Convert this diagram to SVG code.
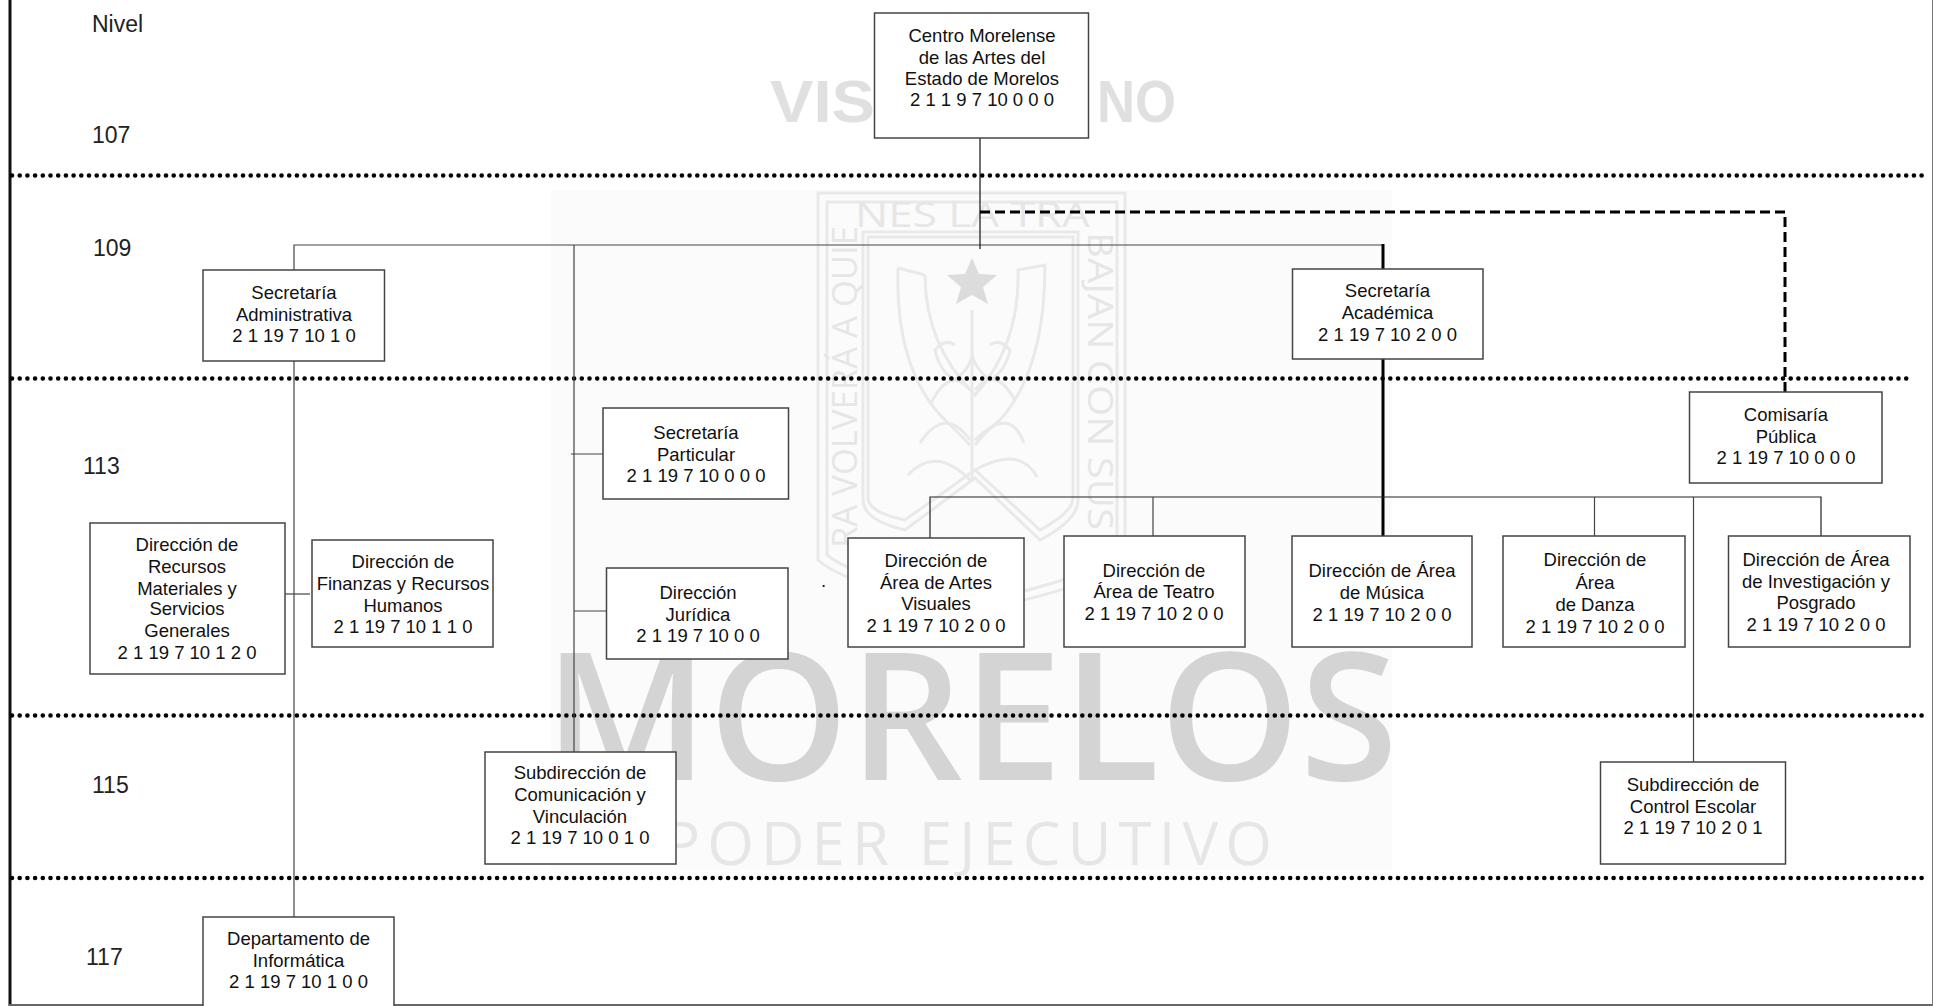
<svg xmlns="http://www.w3.org/2000/svg" width="1933" height="1006" viewBox="0 0 1933 1006">
<style>
text{font-family:"Liberation Sans",Arial,sans-serif;fill:#111}
.n text{font-size:18.5px;text-anchor:middle}
.n rect{fill:#fff;stroke:#444;stroke-width:1.5}
.lv{font-size:23px;fill:#222}
.dot{stroke:#000;stroke-width:4.6;stroke-linecap:round;stroke-dasharray:0 7.7;fill:none}
.c{stroke:#444;stroke-width:1.2;fill:none}
.wl{fill:none;stroke:#e9e9e9;stroke-width:3}
.wt{fill:#e6e6e6;font-family:"Open Sans","Liberation Sans",sans-serif;font-size:34px}
</style>
<rect width="1933" height="1006" fill="#fff"/>
<g id="watermark">
<rect x="551" y="190" width="841" height="680" fill="#fbfbfb"/>
<text x="770" y="122" font-size="60" font-weight="700" style="fill:#e0e0e0" textLength="105" lengthAdjust="spacingAndGlyphs">VIS</text>
<text x="1097" y="122" font-size="60" font-weight="700" style="fill:#e0e0e0" textLength="79" lengthAdjust="spacingAndGlyphs">NO</text>
<path class="wl" d="M818 193H1125V560Q1100 585 972 612Q845 585 818 560Z"/>
<path class="wl" d="M827 202H1117V555Q1090 578 972 603Q855 578 827 555Z"/>
<path class="wl" d="M863 232H1078V500Q1078 520 1040 540L975 478L905 530Q863 520 863 500Z"/>
<path class="wl" d="M868 237H1073V498Q1073 512 1040 530L975 470L905 520Q868 512 868 498Z"/>
<path d="M972 258L979 274L997 275L983 287L988 304L972 295L956 304L961 287L947 275L965 274Z" fill="#dcdcdc"/>
<path class="wl" d="M898 268Q895 370 945 420Q958 432 970 445M925 275Q925 345 975 395Q1020 345 1018 270L1045 265Q1045 370 1000 420Q985 432 975 445M898 268L925 275"/>
<path class="wl" d="M972 310V480M955 345Q945 338 935 350Q940 372 955 380Q975 365 972 345M990 345Q1000 338 1010 350Q1005 372 990 380Q970 365 972 345"/>
<path class="wl" d="M970 390Q950 365 930 405M975 390Q995 365 1015 400M970 440Q945 405 920 443M975 440Q1010 405 1024 443M970 480Q935 445 908 475M975 470Q1020 445 1037 477"/>
<text class="wt" x="855" y="227" textLength="235" lengthAdjust="spacingAndGlyphs">NES LA TRA</text>
<text class="wt" transform="translate(857,548) rotate(-90)" textLength="322" lengthAdjust="spacingAndGlyphs">RA VOLVERÁ A QUIE</text>
<text class="wt" transform="translate(1088,232) rotate(90)" textLength="298" lengthAdjust="spacingAndGlyphs">BAJAN CON SUS</text>
<text x="544" y="780" font-size="178" style="fill:#d4d4d4;font-family:'Open Sans','Liberation Sans',sans-serif" font-weight="600" textLength="854" lengthAdjust="spacingAndGlyphs">MORELOS</text>
<text x="664" y="865" font-size="60" style="fill:#e6e6e6;font-family:'Open Sans','Liberation Sans',sans-serif" textLength="608" lengthAdjust="spacing">PODER EJECUTIVO</text>
</g>
<g id="levels">
<text class="lv" x="92" y="32">Nivel</text>
<text class="lv" x="92" y="143">107</text>
<text class="lv" x="93" y="256">109</text>
<text class="lv" x="83" y="474">113</text>
<text class="lv" x="92" y="793">115</text>
<text class="lv" x="86" y="965">117</text>
</g>
<g id="frame">
<path d="M10 0V1006" stroke="#111" stroke-width="3" fill="none"/>
<path d="M9 1005H1933" stroke="#666" stroke-width="2" fill="none"/>
<path d="M1932.500 0V1006" stroke="#777" stroke-width="1" fill="none"/>
</g>
<g id="dotted-levels">
<path class="dot" d="M12 175.500H1928"/>
<path class="dot" d="M12 378.500H1911"/>
<path class="dot" d="M12 715.500H1928"/>
<path class="dot" d="M12 878H1928"/>
</g>
<g id="connectors">
<path class="c" d="M294 270V245H1384"/>
<path class="c" d="M980 138V249" style="stroke:#111"/>
<path d="M980 212H1785V392" fill="none" stroke="#000" stroke-width="3" stroke-dasharray="10 5"/>
<path d="M1383 244V536" fill="none" stroke="#000" stroke-width="3"/>
<path class="c" d="M294 361V917"/>
<path class="c" d="M285 594H310"/>
<path class="c" d="M574 245V752"/>
<path class="c" d="M571 454H605"/>
<path class="c" d="M574 611H607"/>
<path class="c" d="M930 538V497H1821V536" style="stroke:#222"/>
<path class="c" d="M1153 497V536"/>
<path class="c" d="M1594.500 497V536"/>
<path class="c" d="M1693.500 497V762"/>
</g>
<g id="root" class="n"><rect x="874.500" y="13" width="214" height="125"/><text x="982" y="42">Centro Morelense</text><text x="982" y="63.500">de las Artes del</text><text x="982" y="84.500">Estado de Morelos</text><text x="982" y="106">2 1 1 9 7 10 0 0 0</text></g>
<g id="sec-admin" class="n"><rect x="203" y="270" width="181.500" height="91"/><text x="294" y="299">Secretaría</text><text x="294" y="321">Administrativa</text><text x="294" y="342">2 1 19 7 10 1 0</text></g>
<g id="sec-acad" class="n"><rect x="1292.500" y="269" width="190.500" height="90"/><text x="1387.500" y="297">Secretaría</text><text x="1387.500" y="319">Académica</text><text x="1387.500" y="341">2 1 19 7 10 2 0 0</text></g>
<g id="sec-part" class="n"><rect x="603" y="408" width="185.500" height="91"/><text x="696" y="439">Secretaría</text><text x="696" y="461">Particular</text><text x="696" y="482">2 1 19 7 10 0 0 0</text></g>
<g id="comisaria" class="n"><rect x="1689.500" y="392" width="192.500" height="91"/><text x="1786" y="421">Comisaría</text><text x="1786" y="442.500">Pública</text><text x="1786" y="464">2 1 19 7 10 0 0 0</text></g>
<g id="recursos" class="n"><rect x="90" y="523" width="195" height="151"/><text x="187" y="551">Dirección de</text><text x="187" y="573">Recursos</text><text x="187" y="595">Materiales y</text><text x="187" y="615">Servicios</text><text x="187" y="637">Generales</text><text x="187" y="659">2 1 19 7 10 1 2 0</text></g>
<g id="finanzas" class="n"><rect x="312" y="540" width="181" height="107"/><text x="403" y="568">Dirección de</text><text x="403" y="590">Finanzas y Recursos</text><text x="403" y="612">Humanos</text><text x="403" y="633">2 1 19 7 10 1 1 0</text></g>
<g id="juridica" class="n"><rect x="606.500" y="568" width="181.500" height="91"/><text x="698" y="599">Dirección</text><text x="698" y="621">Jurídica</text><text x="698" y="642">2 1 19 7 10 0 0</text></g>
<g id="artes" class="n"><rect x="848" y="538" width="176" height="109"/><text x="936" y="567">Dirección de</text><text x="936" y="589">Área de Artes</text><text x="936" y="610">Visuales</text><text x="936" y="632">2 1 19 7 10 2 0 0</text></g>
<g id="teatro" class="n"><rect x="1064" y="536" width="181" height="111"/><text x="1154" y="577">Dirección de</text><text x="1154" y="598">Área de Teatro</text><text x="1154" y="620">2 1 19 7 10 2 0 0</text></g>
<g id="musica" class="n"><rect x="1292" y="536" width="180" height="111"/><text x="1382" y="577">Dirección de Área</text><text x="1382" y="599">de Música</text><text x="1382" y="621">2 1 19 7 10 2 0 0</text></g>
<g id="danza" class="n"><rect x="1503" y="536" width="182" height="111"/><text x="1595" y="566">Dirección de</text><text x="1595" y="589">Área</text><text x="1595" y="611">de Danza</text><text x="1595" y="633">2 1 19 7 10 2 0 0</text></g>
<g id="investigacion" class="n"><rect x="1728.500" y="536" width="181.500" height="111"/><text x="1816" y="566">Dirección de Área</text><text x="1816" y="588">de Investigación y</text><text x="1816" y="609">Posgrado</text><text x="1816" y="631">2 1 19 7 10 2 0 0</text></g>
<g id="comunicacion" class="n"><rect x="485" y="752" width="191" height="112"/><text x="580" y="779">Subdirección de</text><text x="580" y="801">Comunicación y</text><text x="580" y="823">Vinculación</text><text x="580" y="844">2 1 19 7 10 0 1 0</text></g>
<g id="control" class="n"><rect x="1600.500" y="762" width="185" height="102"/><text x="1693" y="791">Subdirección de</text><text x="1693" y="813">Control Escolar</text><text x="1693" y="834">2 1 19 7 10 2 0 1</text></g>
<g id="informatica" class="n"><rect x="203" y="917" width="191" height="90"/><text x="298.500" y="945">Departamento de</text><text x="298.500" y="967">Informática</text><text x="298.500" y="988">2 1 19 7 10 1 0 0</text></g>
<text x="821" y="587" font-size="18.500">.</text>
</svg>
